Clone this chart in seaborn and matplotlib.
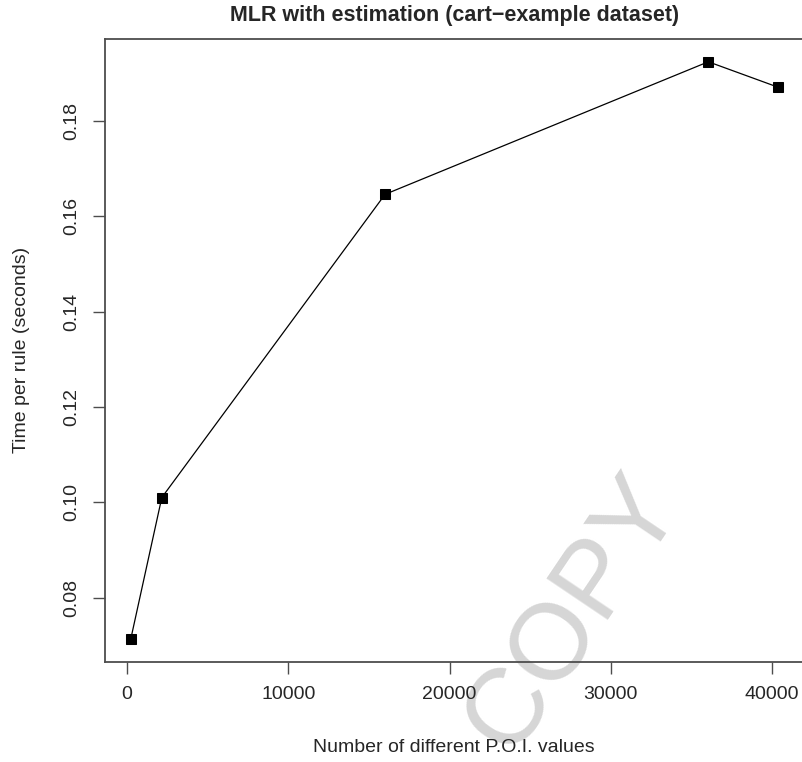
import matplotlib
matplotlib.use("Agg")
import matplotlib.pyplot as plt
import seaborn as sns
import pandas as pd

# values
poi_values = [230, 2150, 16000, 36050, 40350]
time_per_rule = [0.0714, 0.1010, 0.1646, 0.1924, 0.1871]
x_ticks = [0, 10000, 20000, 30000, 40000]
y_ticks = [0.08, 0.10, 0.12, 0.14, 0.16, 0.18]

sns.set_style("white")
plt.rcParams['font.family'] = ['Liberation Sans', 'DejaVu Sans']

df = pd.DataFrame({"poi": poi_values, "time": time_per_rule})

fig = plt.figure(figsize=(8.02, 7.62), dpi=100)
ax = fig.add_axes([0.1309, 0.1316, 0.871, 0.8176])
ax.set_facecolor('none')

sns.lineplot(x="poi", y="time", data=df, ax=ax, color='black', lw=0.9,
             marker='s', markersize=7, markeredgecolor='black', zorder=3)

# R-style 4% padding around the data range
xr = max(poi_values) - min(poi_values)
yr = max(time_per_rule) - min(time_per_rule)
ax.set_xlim(min(poi_values) - 0.04 * xr, max(poi_values) + 0.04 * xr)
ax.set_ylim(min(time_per_rule) - 0.04 * yr, max(time_per_rule) + 0.04 * yr)

ax.set_xticks(x_ticks)
ax.set_xticklabels([str(v) for v in x_ticks])
ax.set_yticks(y_ticks)
ax.set_yticklabels([f"{v:.2f}" for v in y_ticks], rotation=90, va='center')

for s in ax.spines.values():
    s.set_color('#4d4d4d')
    s.set_linewidth(1.3)
ax.tick_params(direction='out', length=8.6, width=1.0, color='#4d4d4d',
               labelsize=14, pad=9, left=True, bottom=True)

ax.set_xlabel("Number of different P.O.I. values", fontsize=14, labelpad=26)
ax.set_ylabel("Time per rule (seconds)", fontsize=14, labelpad=24)
ax.set_title("MLR with estimation (cart\u2212example dataset)", fontsize=15.5,
             fontweight='bold', pad=13)

# watermark
ax.text(0.715, 0.195, "COPY", transform=fig.transFigure, fontsize=78,
        color='#d6d6d6', rotation=56, ha='center', va='center', zorder=0.5,
        clip_on=False)

fig.savefig("out.png", dpi=100)
